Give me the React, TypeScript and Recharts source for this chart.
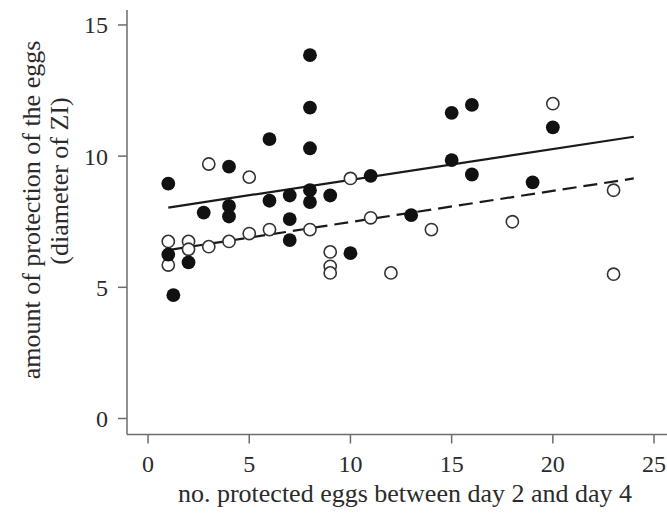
import React from 'react';
import { ScatterChart, Scatter, XAxis, YAxis, Label } from 'recharts';

// filled circles (one group)
const filledX = [8, 8, 6, 8, 4, 1, 7, 6, 4, 8, 8, 2.75, 4, 7, 7, 1, 2, 1.25, 9, 11, 15, 16, 15, 16, 13, 10, 20, 19];
const filledY = [13.85, 11.85, 10.65, 10.3, 9.6, 8.95, 8.5, 8.3, 8.1, 8.7, 8.25, 7.85, 7.7, 7.6, 6.8, 6.25, 5.95, 4.7, 8.5, 9.25, 11.65, 11.95, 9.85, 9.3, 7.75, 6.3, 11.1, 9.0];

// open circles (other group)
const openX = [3, 5, 1, 2, 2, 3, 4, 5, 6, 1, 8, 10, 11, 14, 9, 9, 9, 12, 20, 18, 23, 23];
const openY = [9.7, 9.2, 6.75, 6.75, 6.45, 6.55, 6.75, 7.05, 7.2, 5.85, 7.2, 9.15, 7.65, 7.2, 6.35, 5.8, 5.55, 5.55, 12.0, 7.5, 8.7, 5.5];

// fitted lines
const fitX = [1, 24];
const solidFitY = [8.04, 10.74];
const dashedFitY = [6.42, 9.15];

const xTicks = [0, 5, 10, 15, 20, 25];
const yTicks = [0, 5, 10, 15];

const filled = filledX.map((x, i) => ({ x, y: filledY[i] }));
const open = openX.map((x, i) => ({ x, y: openY[i] }));
const solidFit = fitX.map((x, i) => ({ x, y: solidFitY[i] }));
const dashedFit = fitX.map((x, i) => ({ x, y: dashedFitY[i] }));

const FONT = "'Liberation Serif', 'DejaVu Serif', serif";
const AXIS = '#6b6b6b';
const TEXT = '#2b2b2b';

const FilledDot = (props: any) => <circle cx={props.cx} cy={props.cy} r={6.9} fill="#111" />;
const OpenDot = (props: any) => (
  <circle cx={props.cx} cy={props.cy} r={6.1} fill="#fff" stroke="#333" strokeWidth={1.6} />
);
const NoDot = () => <g />;

export default function App() {
  return (
    <div style={{ width: 667, height: 518 }}>
      <style>{'body{margin:0}'}</style>
      <ScatterChart width={667} height={518} margin={{ top: 10, right: 0, bottom: 0, left: 0 }}>
        <XAxis
          type="number"
          dataKey="x"
          domain={[-1.04, 25.64]}
          ticks={xTicks}
          interval={0}
          allowDataOverflow
          height={83.5}
          tickSize={9}
          tickMargin={11}
          axisLine={{ stroke: AXIS, strokeWidth: 1.5 }}
          tickLine={{ stroke: AXIS, strokeWidth: 1.5 }}
          tick={{ fill: TEXT, fontSize: 24, fontFamily: FONT }}
        >
          <Label
            content={(p: any) => (
              <text
                x={p.viewBox.x + p.viewBox.width / 2 + 8}
                y={502}
                textAnchor="middle"
                fill={TEXT}
                fontSize={26}
                fontFamily={FONT}
              >
                no. protected eggs between day 2 and day 4
              </text>
            )}
          />
        </XAxis>
        <YAxis
          type="number"
          dataKey="y"
          domain={[-0.61, 15.57]}
          ticks={yTicks}
          interval={0}
          allowDataOverflow
          width={127}
          tickSize={9}
          tickMargin={10}
          axisLine={{ stroke: AXIS, strokeWidth: 1.5 }}
          tickLine={{ stroke: AXIS, strokeWidth: 1.5 }}
          tick={{ fill: TEXT, fontSize: 24, fontFamily: FONT }}
        >
          <Label
            content={() => (
              <g fill={TEXT} fontSize={26} fontFamily={FONT}>
                <text x={31} y={210} transform="rotate(-90 31 210)" textAnchor="middle" dominantBaseline="central">
                  amount of protection of the eggs
                </text>
                <text x={59} y={181} transform="rotate(-90 59 181)" textAnchor="middle" dominantBaseline="central">
                  (diameter of ZI)
                </text>
              </g>
            )}
          />
        </YAxis>
        <Scatter data={solidFit} line={{ stroke: '#1a1a1a', strokeWidth: 2.2 }} shape={NoDot} isAnimationActive={false} />
        <Scatter
          data={dashedFit}
          line={{ stroke: '#1a1a1a', strokeWidth: 2.2, strokeDasharray: '14 7' }}
          shape={NoDot}
          isAnimationActive={false}
        />
        <Scatter data={open} shape={OpenDot} isAnimationActive={false} />
        <Scatter data={filled} shape={FilledDot} isAnimationActive={false} />
      </ScatterChart>
    </div>
  );
}
